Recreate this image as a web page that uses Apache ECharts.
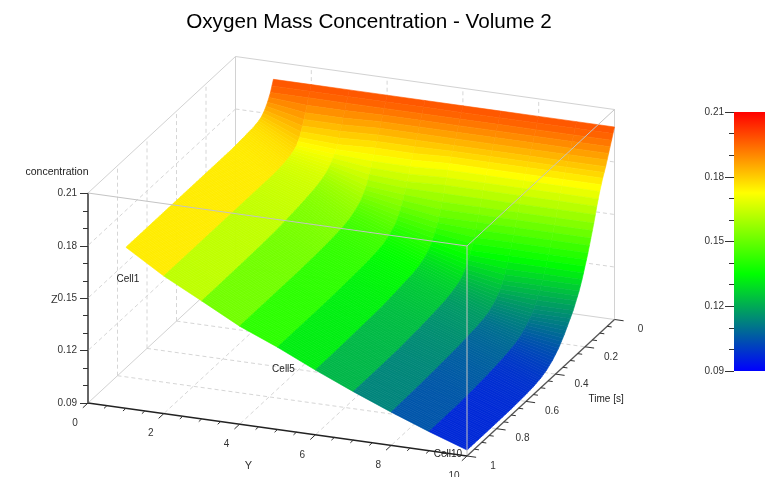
<!DOCTYPE html>
<html><head><meta charset="utf-8">
<style>html,body{margin:0;padding:0;background:#fff}#c{width:765px;height:477px}</style>
<script src="https://cdn.jsdelivr.net/npm/echarts@6/dist/echarts.min.js"></script>
</head><body><div id="c"></div>
<script>
const titleText = 'Oxygen Mass Concentration - Volume 2';
const times = [0,.02,.04,.06,.08,.1,.12,.14,.16,.18,.2,.22,.24,.26,.28,.3,.34,.38,.42,.46,.5,.55,.6,.7,.8,.9,1];
const cellY = [1,2,3,4,5,6,7,8,9,10];
const cell1 = [.2,.194,.19,.187,.185,.184,.1835,.183,.183,.1828,.1825,.1825,.1823,.1822,.182,.182,.182,.182,.182,.182,.182,.182,.182,.182,.182,.182,.182];
const cell2 = [.2,.194,.187,.181,.176,.173,.1715,.1705,.17,.1695,.1692,.169,.1688,.1686,.1686,.1686,.1686,.1686,.1686,.1686,.1686,.1686,.1686,.1686,.1686,.1686,.1686];
const cell3 = [.2,.194,.187,.181,.175,.171,.168,.166,.1645,.1635,.1628,.1622,.1617,.1613,.161,.1606,.16,.1595,.159,.1586,.1582,.158,.1578,.1576,.1575,.1574,.1574];
const cell4 = [.2,.194,.188,.182,.176,.17,.164,.159,.156,.1535,.152,.1508,.1498,.149,.1485,.148,.1475,.147,.1467,.1465,.1463,.1462,.146,.146,.146,.146,.146];
const cell5 = [.2,.194,.188,.182,.176,.17,.163,.157,.152,.148,.145,.1435,.142,.141,.14,.1395,.1388,.1383,.138,.1378,.1376,.1374,.1372,.137,.137,.137,.137];
const cell6 = [.2,.194,.188,.182,.177,.171,.164,.156,.149,.144,.14,.137,.135,.1335,.1325,.1315,.1305,.13,.1295,.129,.1285,.128,.1278,.1275,.1272,.127,.127];
const cell7 = [.2,.194,.188,.182,.177,.171,.164,.156,.149,.142,.136,.132,.1285,.126,.1245,.1235,.122,.121,.1205,.12,.1195,.119,.1187,.118,.1178,.1177,.1177];
const cell8 = [.2,.194,.188,.182,.177,.171,.164,.156,.149,.142,.136,.13,.125,.1215,.119,.117,.1145,.1132,.1125,.112,.1115,.111,.1106,.11,.1095,.1092,.109];
const cell9 = [.2,.194,.188,.182,.177,.171,.164,.156,.149,.142,.136,.13,.125,.121,.117,.114,.11,.107,.1055,.1045,.1037,.103,.1024,.1015,.101,.1009,.1009];
const cell10 = [.2,.194,.188,.182,.177,.171,.164,.156,.149,.142,.136,.13,.125,.121,.117,.114,.108,.103,.0995,.097,.0955,.0945,.094,.0935,.0934,.0934,.0934];
const cells = [cell1,cell2,cell3,cell4,cell5,cell6,cell7,cell8,cell9,cell10];
const yTicks = [0,2,4,6,8,10];
const yMinor = [.5,1,1.5,2.5,3,3.5,4.5,5,5.5,6.5,7,7.5,8.5,9,9.5];
const tTicks = [0,.2,.4,.6,.8,1];
const tMinor = [.05,.1,.15,.25,.3,.35,.45,.5,.55,.65,.7,.75,.85,.9,.95];
const zTicks = [.12,.15,.18];
const zMin = .09, zMax = .21;
const colorStops = ['#0000ff','#002bd5','#0055aa','#008080','#00aa55','#00d52b','#00ff00','#33ff00','#66ff00','#99ff00','#ccff00','#ffff00','#ffcc00','#ff9900','#ff6600','#ff3300','#ff0000'];
const cellLabels = [['Cell1',1],['Cell5',5],['Cell10',10]];

function P(Y,t,z){
  const b = 1-t, h = (z-zMin)*1750;
  return [88+37.9*Y+147.5*b, 403+5.3*Y-136.5*b-h];
}
function colorOf(z){
  const f = Math.max(0,Math.min(1,(Math.min(z,.197)-zMin)/(zMax-zMin)))*(colorStops.length-1);
  const i = Math.min(colorStops.length-2,Math.floor(f)), u=f-i;
  const a=parseInt(colorStops[i].slice(1),16), b=parseInt(colorStops[i+1].slice(1),16);
  const mix=s=>Math.round(((a>>s)&255)*(1-u)+((b>>s)&255)*u);
  return 'rgb('+mix(16)+','+mix(8)+','+mix(0)+')';
}
const quads = [];
for (let j=0;j<times.length-1;j++) for (let i=0;i<cells.length-1;i++) quads.push([i,j]);
const back=[], front=[], axes=[];
const GS={stroke:'#d2d2d2',lineWidth:1}, FS={stroke:'#c4c4c4',lineWidth:1}, GD={stroke:'#d6d6d6',lineWidth:1,lineDash:[4,3]};
const AY={stroke:'#222',lineWidth:1.3}, AT={stroke:'#555',lineWidth:1.3}, TK={stroke:'#333',lineWidth:1};
function seg(list,a,b,s){list.push([a,b,s]);}
[.2,.4,.6,.8].forEach(t=>{
  seg(back,[0,t,zMin],[0,t,zMax],GD);
  seg(back,[0,t,zMin],[10,t,zMin],GD);
});
[2,4,6,8].forEach(Y=>{
  seg(back,[Y,0,zMin],[Y,0,zMax],GD);
  seg(back,[Y,0,zMin],[Y,1,zMin],GD);
});
zTicks.forEach(z=>{
  seg(back,[0,0,z],[0,1,z],GD);
  seg(back,[0,0,z],[10,0,z],GD);
});
seg(back,[0,0,zMin],[0,0,zMax],GS);
seg(back,[10,0,zMin],[10,0,zMax],GS);
seg(back,[0,0,zMin],[0,1,zMin],GS);
seg(back,[0,0,zMin],[10,0,zMin],GS);
seg(back,[0,0,zMax],[0,1,zMax],GS);
seg(back,[0,0,zMax],[10,0,zMax],GS);
seg(front,[0,1,zMax],[10,1,zMax],FS);
seg(front,[10,0,zMax],[10,1,zMax],FS);
seg(front,[10,1,zMin],[10,1,zMax],FS);
seg(axes,[0,1,zMin],[10,1,zMin],AY);
seg(axes,[10,0,zMin],[10,1,zMin],AT);
yTicks.forEach(Y=>seg(axes,[Y,1,zMin],[Y,1.035,zMin],TK));
yMinor.forEach(Y=>seg(axes,[Y,1,zMin],[Y,1.02,zMin],TK));
tTicks.forEach(t=>seg(axes,[10,t,zMin],[10.24,t,zMin],TK));
tMinor.forEach(t=>seg(axes,[10,t,zMin],[10.12,t,zMin],TK));
const texts=[];
yTicks.forEach(Y=>texts.push([String(Y),[Y,1,zMin],-13,20,10,'#333']));
tTicks.forEach(t=>texts.push([String(t),[10,t,zMin],26,10,10,'#333']));
cellLabels.forEach(c=>texts.push([c[0],[c[1],1,zMin],c[1]===10?-19:(c[1]===5?6:2),c[1]===10?-2:(c[1]===5?-60:-129),10,'#222']));
texts.push(['Y',[5,1,zMin],-29,36,11,'#333']);
texts.push(['Time [s]',[10,.45,zMin],58,18,10,'#222']);

function lineSeries(list,z){
  return {type:'custom',xAxisIndex:0,yAxisIndex:0,coordinateSystem:'cartesian2d',clip:false,silent:true,z:z,
    data:list.map((s,i)=>[i,0]),
    renderItem:function(p,api){
      const s=list[p.dataIndex];
      const a=api.coord(P.apply(null,s[0])), b=api.coord(P.apply(null,s[1]));
      return {type:'line',shape:{x1:a[0],y1:a[1],x2:b[0],y2:b[1]},style:Object.assign({fill:null},s[2])};
    }};
}
const labelFont={fontFamily:'Liberation Sans',fontSize:10,color:'#333'};
const option={
  animation:false,backgroundColor:'#fff',
  title:{text:titleText,left:364,top:7,textAlign:'center',textStyle:{fontFamily:'Liberation Sans',fontSize:20.7,fontWeight:'normal',color:'#000'}},
  grid:[
    {left:0,top:0,width:765,height:477},
    {left:88,top:193.5,width:1,height:209.5},
    {left:734,top:112,width:31,height:259}
  ],
  xAxis:[
    {gridIndex:0,type:'value',min:0,max:765,show:false},
    {gridIndex:1,type:'value',min:0,max:1,show:false},
    {gridIndex:2,type:'value',min:0,max:1,show:false}
  ],
  yAxis:[
    {gridIndex:0,type:'value',min:0,max:477,inverse:true,show:false},
    {gridIndex:1,type:'value',min:zMin,max:zMax,interval:.03,name:'concentration',nameLocation:'end',nameGap:16,
      nameTextStyle:{fontFamily:'Liberation Sans',fontSize:10.5,color:'#222',align:'center',padding:[0,0,0,-62]},
      axisLine:{show:true,lineStyle:{color:'#333',width:1.5}},axisTick:{length:8,lineStyle:{color:'#333'}},
      minorTick:{show:true,splitNumber:3,length:5,lineStyle:{color:'#333'}},splitLine:{show:false},
      axisLabel:Object.assign({margin:11,formatter:v=>v.toFixed(2)},labelFont)},
    {gridIndex:2,type:'value',min:zMin,max:zMax,interval:.03,
      axisLine:{show:false},axisTick:{length:9,lineStyle:{color:'#333'}},
      minorTick:{show:true,splitNumber:3,length:5,lineStyle:{color:'#333'}},splitLine:{show:false},
      axisLabel:Object.assign({margin:10,formatter:v=>v.toFixed(2)},labelFont)}
  ],
  series:[
    lineSeries(back,1),
    {type:'custom',coordinateSystem:'cartesian2d',xAxisIndex:0,yAxisIndex:0,clip:false,silent:true,z:2,
      data:quads,
      renderItem:function(p,api){
        const i=api.value(0),j=api.value(1);
        // each quad is painted as thin flat strips from its back edge to its front edge
        const n=Math.max(1,Math.round((times[j+1]-times[j])/.01));
        const a=[i,i+1].map(q=>api.coord(P(cellY[q],times[j],cells[q][j])));
        const b=[i,i+1].map(q=>api.coord(P(cellY[q],times[j+1],cells[q][j+1])));
        const m0=(cells[i][j]+cells[i+1][j])/2,m1=(cells[i][j+1]+cells[i+1][j+1])/2;
        const lerp=(u,v,f)=>[u[0]+(v[0]-u[0])*f,u[1]+(v[1]-u[1])*f];
        const children=[];
        for(let k=0;k<n;k++){
          const f0=k/n,f1=(k+1)/n,col=colorOf(m0+(m1-m0)*(f0+f1)/2);
          children.push({type:'polygon',shape:{points:[lerp(a[0],b[0],f0),lerp(a[1],b[1],f0),lerp(a[1],b[1],f1),lerp(a[0],b[0],f1)]},
            style:{fill:col,stroke:col,lineWidth:.6}});
        }
        return {type:'group',children};
      }},
    lineSeries(front,3),
    lineSeries(axes,4),
    {type:'custom',coordinateSystem:'cartesian2d',xAxisIndex:0,yAxisIndex:0,clip:false,silent:true,z:5,
      data:texts.map((s,i)=>[i,0]),
      renderItem:function(p,api){
        const s=texts[p.dataIndex],a=api.coord(P.apply(null,s[1]));
        return {type:'text',x:a[0]+s[2],y:a[1]+s[3],style:{text:s[0],fill:s[5],fontFamily:'Liberation Sans',fontSize:s[4],align:'center',verticalAlign:'middle'}};
      }},
    {type:'custom',coordinateSystem:'cartesian2d',xAxisIndex:2,yAxisIndex:2,clip:false,silent:true,z:2,
      data:[[0,zMin]],
      renderItem:function(p,api){
        const a=api.coord([0,zMax]),b=api.coord([1,zMin]);
        const g=new echarts.graphic.LinearGradient(0,0,0,1,colorStops.map((c,i)=>({offset:1-i/(colorStops.length-1),color:c})));
        return {type:'rect',shape:{x:a[0],y:a[1],width:b[0]-a[0],height:b[1]-a[1]},style:{fill:g}};
      }}
  ],
  graphic:[{type:'text',left:51,top:294,style:{text:'Z',fill:'#333',fontFamily:'Liberation Sans',fontSize:11}}]
};
echarts.init(document.getElementById('c'),null,{renderer:'canvas'}).setOption(option);
</script></body></html>
